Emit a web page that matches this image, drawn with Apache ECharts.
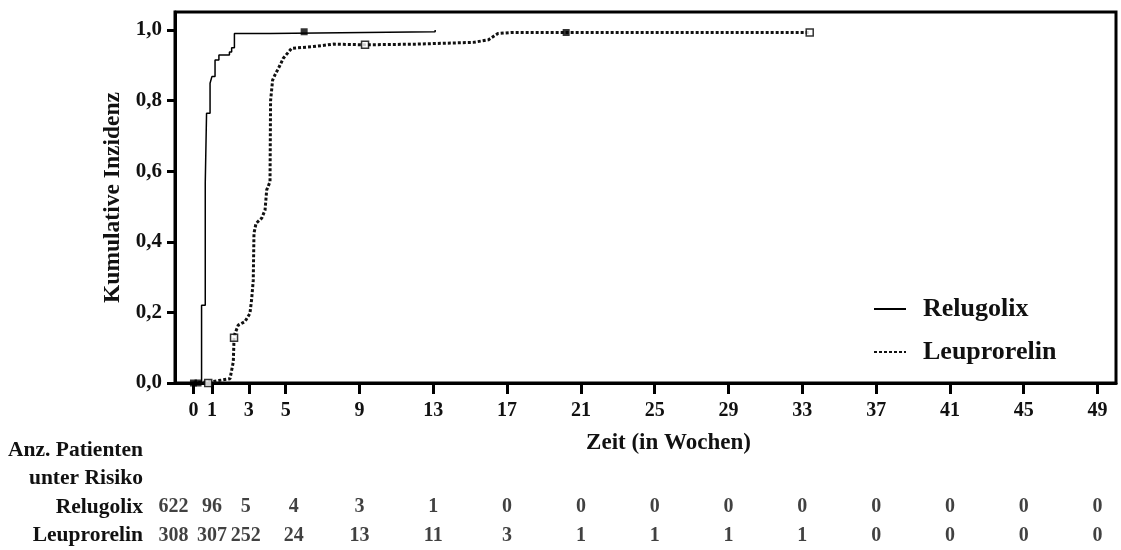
<!DOCTYPE html>
<html>
<head>
<meta charset="utf-8">
<script src="https://cdn.jsdelivr.net/npm/echarts@6/dist/echarts.min.js"></script>
<style>
  html, body { margin: 0; padding: 0; background: #fff; }
  #kmchart { width: 1121px; height: 550px; }
</style>
</head>
<body>
<div id="kmchart"></div>
<script>
// Daten
var weekTicks = [0, 1, 3, 5, 9, 13, 17, 21, 25, 29, 33, 37, 41, 45, 49];
var yTicks = [0, 0.2, 0.4, 0.6, 0.8, 1.0];

var relugolixCurve = [[0, 0], [0.44, 0.22], [0.64, 0.567], [0.71, 0.764], [0.9, 0.849], [1.0, 0.868],
    [1.17, 0.915], [1.38, 0.929], [1.95, 0.938], [2.07, 0.95], [2.22, 0.99], [4.16, 0.995], [13.1, 1.0]];
var leuprorelinCurve = [[0, 0], [1.0, 0.004], [1.98, 0.012], [2.16, 0.06], [2.2, 0.128], [2.25, 0.14],
    [2.43, 0.164], [2.79, 0.174], [3.06, 0.197], [3.15, 0.235], [3.24, 0.29], [3.28, 0.424], [3.39, 0.452],
    [3.7, 0.467], [3.88, 0.49], [3.97, 0.547], [4.15, 0.57], [4.18, 0.8], [4.29, 0.858], [4.42, 0.873],
    [4.69, 0.9], [4.87, 0.92], [5.32, 0.948], [6.49, 0.953], [7.58, 0.96], [9.33, 0.958], [12.1, 0.96],
    [15.17, 0.965], [15.98, 0.972], [16.5, 0.99], [17.2, 0.993], [33.4, 0.993]];

var relugolixCensor = [[0, 0], [0.25, 0], [6.0, 0.995]];
var leuprorelinCensorOpen = [[0.8, 0], [2.2, 0.128], [9.3, 0.958], [33.4, 0.993]];
var leuprorelinCensorFilled = [[20.2, 0.993]];

var riskRows = ['Leuprorelin', 'Relugolix', 'unter Risiko', 'Anz. Patienten'];
var relugolixAtRisk = [622, 96, 5, 4, 3, 1, 0, 0, 0, 0, 0, 0, 0, 0, 0];
var leuprorelinAtRisk = [308, 307, 252, 24, 13, 11, 3, 1, 1, 1, 1, 0, 0, 0, 0];

// die ersten Spalten der Tabelle sind etwas auseinandergezogen
var riskShift = [-20, 0, -3, 8];

var font = 'Liberation Serif';

function riskData(row, counts) {
    return counts.map(function (n, i) {
        return { value: [weekTicks[i], row, n], label: { offset: [riskShift[i] || 0, 0] } };
    });
}

var chart = echarts.init(document.getElementById('kmchart'));
var option = {
    animation: false,
    backgroundColor: '#fff',
    textStyle: { fontFamily: font, fontWeight: 'bold', color: '#111' },
    grid: [
        { left: 175, right: 5, top: 12, bottom: 167, show: true, borderColor: '#000', borderWidth: 3 },
        { left: 175, right: 5, top: 436, height: 117 }
    ],
    legend: {
        data: ['Relugolix', 'Leuprorelin'],
        orient: 'vertical',
        left: 868,
        top: 291,
        itemWidth: 32,
        itemHeight: 14,
        itemGap: 17,
        itemStyle: { opacity: 0 },
        textStyle: { fontFamily: font, fontWeight: 'bold', fontSize: 26, color: '#111', padding: [0, 0, 0, 12] }
    },
    xAxis: [
        {
            type: 'value', min: -1, max: 50,
            name: 'Zeit (in Wochen)', nameLocation: 'middle', nameGap: 49,
            nameTextStyle: { fontFamily: font, fontWeight: 'bold', fontSize: 23, color: '#111', padding: [0, 0, 0, 46] },
            splitLine: { show: false },
            axisLine: { onZero: false, lineStyle: { color: '#000', width: 3 } },
            axisTick: { customValues: weekTicks, length: 11, lineStyle: { color: '#000', width: 3 } },
            axisLabel: { customValues: weekTicks, margin: 18, fontFamily: font, fontWeight: 'bold', fontSize: 20, color: '#111' }
        },
        { gridIndex: 1, type: 'value', min: -1, max: 50, show: false }
    ],
    yAxis: [
        {
            type: 'value', min: 0, max: 1.051,
            name: 'Kumulative Inzidenz', nameLocation: 'middle', nameGap: 49, nameRotate: 90,
            nameTextStyle: { fontFamily: font, fontWeight: 'bold', fontSize: 23.5, color: '#111' },
            splitLine: { show: false },
            axisLine: { onZero: false, lineStyle: { color: '#000', width: 3 } },
            axisTick: { customValues: yTicks, length: 8, lineStyle: { color: '#000', width: 3 } },
            axisLabel: {
                customValues: yTicks, margin: 13, fontFamily: font, fontWeight: 'bold', fontSize: 21, color: '#111',
                formatter: function (v) { return v.toFixed(1).replace('.', ','); }
            }
        },
        {
            gridIndex: 1, type: 'category', data: riskRows,
            axisLine: { show: false }, axisTick: { show: false }, splitLine: { show: false },
            axisLabel: { interval: 0, margin: 32, fontFamily: font, fontWeight: 'bold', fontSize: 21.5, color: '#111' }
        }
    ],
    series: [
        {
            name: 'Relugolix', type: 'line', step: 'end', data: relugolixCurve,
            symbol: 'none', lineStyle: { color: '#000', width: 1.5 }, itemStyle: { color: '#000' }
        },
        {
            name: 'Leuprorelin', type: 'line', data: leuprorelinCurve,
            symbol: 'none', lineStyle: { color: '#111', width: 3, type: [3, 2] }, itemStyle: { color: '#111' }
        },
        {
            name: 'Relugolix zensiert', type: 'scatter', data: relugolixCensor, symbol: 'rect', symbolSize: 7,
            itemStyle: { color: '#000' }, z: 5
        },
        {
            name: 'Leuprorelin zensiert', type: 'scatter', data: leuprorelinCensorOpen, symbol: 'rect', symbolSize: 7,
            itemStyle: { color: '#fff', borderColor: '#000', borderWidth: 1.5 }, z: 5
        },
        {
            name: 'Leuprorelin zensiert 2', type: 'scatter', data: leuprorelinCensorFilled, symbol: 'rect', symbolSize: 7,
            itemStyle: { color: '#000' }, z: 5
        },
        {
            name: 'Risiko Relugolix', type: 'scatter', xAxisIndex: 1, yAxisIndex: 1,
            data: riskData('Relugolix', relugolixAtRisk), symbolSize: 0.01,
            itemStyle: { color: 'rgba(0,0,0,0)' },
            label: { show: true, position: 'inside', formatter: function (p) { return p.value[2]; },
                fontFamily: font, fontWeight: 'bold', fontSize: 20, color: '#111' }
        },
        {
            name: 'Risiko Leuprorelin', type: 'scatter', xAxisIndex: 1, yAxisIndex: 1,
            data: riskData('Leuprorelin', leuprorelinAtRisk), symbolSize: 0.01,
            itemStyle: { color: 'rgba(0,0,0,0)' },
            label: { show: true, position: 'inside', formatter: function (p) { return p.value[2]; },
                fontFamily: font, fontWeight: 'bold', fontSize: 20, color: '#111' }
        }
    ]
};
chart.setOption(option);
</script>
</body>
</html>
